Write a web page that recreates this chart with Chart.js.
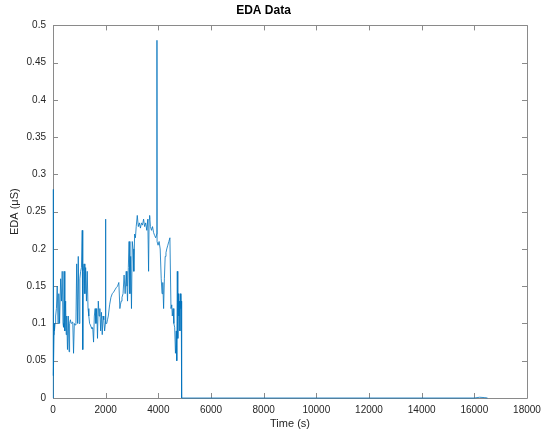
<!DOCTYPE html>
<html>
<head>
<meta charset="utf-8">
<script src="https://cdn.jsdelivr.net/npm/chart.js@4"></script>
<style>
  html, body { margin: 0; padding: 0; background: #fff; }
  #wrap { width: 543px; height: 432px; }
</style>
</head>
<body>
<div id="wrap"><canvas id="edaChart" width="543" height="432"></canvas></div>
<script>
"use strict";

// time stamps (s) and EDA readings (uS)
var timeS = [
    0, 3, 6, 9, 12, 20, 30, 40, 50, 60, 80, 100,
    130, 160, 190, 220, 250, 290, 320, 350, 380, 400, 420, 450, 480, 500, 520,
    550, 580, 610, 630, 660, 690, 720, 750, 780, 810, 840, 870, 900,
    930, 960, 990, 1020, 1050, 1080, 1110, 1130, 1150, 1180, 1210, 1240, 1270,
    1300, 1330, 1360, 1390, 1420, 1450, 1480, 1510, 1540, 1570, 1600, 1630,
    1660, 1690, 1720, 1750, 1780, 1810, 1840, 1870, 1900, 1930, 1960, 1990, 1998, 2002,
    2040, 2070, 2100, 2150, 2200, 2250, 2300, 2350, 2400, 2450, 2500, 2540, 2560,
    2590, 2620, 2660, 2700, 2740, 2780, 2810, 2830, 2860, 2890, 2920, 2950, 2980,
    3010, 3040, 3070, 3100, 3130, 3160, 3200, 3240, 3280, 3320, 3360, 3400, 3440,
    3480, 3520, 3560, 3600, 3630, 3650, 3670, 3700, 3740, 3780, 3820, 3860, 3900,
    3940, 3948, 3952, 3990, 4030, 4070, 4110, 4140, 4170, 4200, 4230, 4260, 4290,
    4320, 4360, 4400, 4440, 4480, 4510, 4530, 4560, 4590, 4620, 4650, 4680, 4700,
    4720, 4740, 4760, 4780, 4800, 4820, 4840, 4860, 4870, 4880, 4890, 6000, 10000,
    15000, 16000, 16200, 16400, 16500
];
var edaUs = [
    0.00, 0.28, 0.02, 0.22, 0.00, 0.09, 0.03, 0.085, 0.10, 0.09, 0.10, 0.11,
    0.12, 0.15, 0.10, 0.14, 0.10, 0.16, 0.13, 0.17, 0.10, 0.095, 0.17, 0.09, 0.13,
    0.085, 0.11, 0.065, 0.11, 0.062, 0.10, 0.105, 0.10, 0.10, 0.102, 0.06, 0.10, 0.098,
    0.10, 0.18,
    0.10, 0.19, 0.10, 0.16, 0.17, 0.175, 0.225, 0.065, 0.17, 0.18, 0.14, 0.175, 0.13,
    0.17, 0.12, 0.11, 0.10, 0.098, 0.095, 0.093, 0.094, 0.075, 0.11, 0.12, 0.10,
    0.12, 0.08, 0.13, 0.11, 0.12, 0.09, 0.115, 0.085, 0.11, 0.105, 0.09, 0.10, 0.24, 0.10,
    0.10, 0.105, 0.11, 0.125, 0.135, 0.14, 0.142, 0.145, 0.148, 0.15, 0.155, 0.12, 0.125,
    0.13, 0.135, 0.14, 0.165, 0.14, 0.17, 0.15, 0.13, 0.175, 0.21, 0.14, 0.19, 0.12,
    0.21, 0.20, 0.17, 0.22, 0.215, 0.23, 0.245, 0.23, 0.235, 0.228, 0.235, 0.232, 0.24,
    0.23, 0.235, 0.225, 0.24, 0.17, 0.24, 0.245, 0.23, 0.225, 0.23, 0.222, 0.218, 0.215,
    0.22, 0.48, 0.21, 0.205, 0.21, 0.20, 0.16, 0.14, 0.155, 0.12, 0.16, 0.19, 0.195,
    0.20, 0.205, 0.21, 0.215, 0.12, 0.125, 0.11, 0.12, 0.10, 0.095, 0.06, 0.09, 0.05,
    0.17, 0.08, 0.14, 0.11, 0.13, 0.09, 0.14, 0.12, 0.13, 0.10, 0.00, 0.00, 0.00,
    0.00, 0.00, 0.001, 0.0005, 0.00, 0.00
];

// tick values
var xTicks = [0, 2000, 4000, 6000, 8000, 10000, 12000, 14000, 16000, 18000];
var yTicks = [0, 0.05, 0.1, 0.15, 0.2, 0.25, 0.3, 0.35, 0.4, 0.45, 0.5];

var axisColor = '#262626';
var lineColor = '#0072BD';
var fontFamily = 'Liberation Sans, Arial, sans-serif';

var EdaPlot = function () {

    // matlab style box with inward ticks, drawn under the trace
    var boxPlugin = {
        id: 'matlabBox',
        beforeDatasetsDraw: function (chart) {
            var ctx = chart.ctx;
            var a = chart.chartArea;
            var xs = chart.scales.x;
            var ys = chart.scales.y;
            ctx.save();
            ctx.strokeStyle = '#8a8a8a';
            ctx.lineWidth = 1;
            ctx.beginPath();
            ctx.rect(Math.round(a.left) + 0.5, Math.round(a.top) + 0.5,
                Math.round(a.right - a.left), Math.round(a.bottom - a.top));
            xTicks.forEach(function (v) {
                var px = Math.round(xs.getPixelForValue(v)) + 0.5;
                ctx.moveTo(px, a.bottom);
                ctx.lineTo(px, a.bottom - 5);
                ctx.moveTo(px, a.top);
                ctx.lineTo(px, a.top + 5);
            });
            yTicks.forEach(function (v) {
                var py = Math.round(ys.getPixelForValue(v)) + 0.5;
                ctx.moveTo(a.left, py);
                ctx.lineTo(a.left + 5, py);
                ctx.moveTo(a.right, py);
                ctx.lineTo(a.right - 5, py);
            });
            ctx.stroke();
            ctx.restore();
        }
    };

    var initChart = function () {
        var points = timeS.map(function (t, i) {
            return { x: t, y: edaUs[i] };
        });

        var ctx = document.getElementById('edaChart');

        new Chart(ctx, {
            type: 'line',
            data: {
                datasets: [{
                    data: points,
                    borderColor: lineColor,
                    borderWidth: 0.8,
                    pointRadius: 0,
                    tension: 0,
                    fill: false,
                    clip: false
                }]
            },
            options: {
                responsive: false,
                animation: false,
                devicePixelRatio: 1,
                layout: {
                    padding: { left: 0, right: 16, top: 0, bottom: 0 }
                },
                plugins: {
                    legend: { display: false },
                    tooltip: { enabled: false },
                    title: {
                        display: true,
                        text: 'EDA Data',
                        color: '#000',
                        font: { family: fontFamily, size: 12, weight: 'bold' },
                        padding: { top: 3, bottom: 8 }
                    }
                },
                scales: {
                    x: {
                        type: 'linear',
                        min: 0,
                        max: 18000,
                        afterBuildTicks: function (scale) {
                            scale.ticks = xTicks.map(function (v) { return { value: v }; });
                        },
                        afterFit: function (scale) {
                            scale.height = 34;
                            scale.paddingLeft = 0;
                            scale.paddingRight = 0;
                        },
                        grid: { display: false, drawTicks: false },
                        border: { display: false },
                        ticks: {
                            color: axisColor,
                            padding: 6,
                            maxRotation: 0,
                            font: { family: fontFamily, size: 10 },
                            callback: function (v) { return String(v); }
                        },
                        title: {
                            display: true,
                            text: 'Time (s)',
                            color: axisColor,
                            font: { family: fontFamily, size: 11 },
                            padding: { top: 0, bottom: 1 }
                        }
                    },
                    y: {
                        min: 0,
                        max: 0.5,
                        afterBuildTicks: function (scale) {
                            scale.ticks = yTicks.map(function (v) { return { value: v }; });
                        },
                        afterFit: function (scale) {
                            scale.width = 53;
                            scale.paddingTop = 0;
                            scale.paddingBottom = 0;
                        },
                        grid: { display: false, drawTicks: false },
                        border: { display: false },
                        ticks: {
                            color: axisColor,
                            padding: 7,
                            font: { family: fontFamily, size: 10 },
                            callback: function (v) { return String(+Number(v).toFixed(2)); }
                        },
                        title: {
                            display: true,
                            text: 'EDA (\u03bcS)',
                            color: axisColor,
                            font: { family: fontFamily, size: 11 },
                            padding: { top: 8, bottom: 0 }
                        }
                    }
                }
            },
            plugins: [boxPlugin]
        });
    };

    return {
        init: function () {
            initChart();
        }
    };

}();

EdaPlot.init();
</script>
</body>
</html>
